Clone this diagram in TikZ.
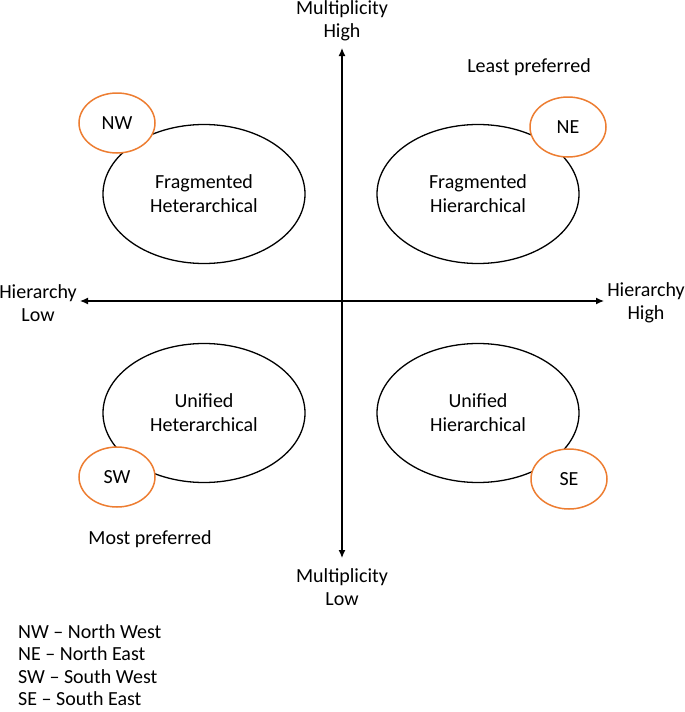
\documentclass[tikz,border=0pt]{standalone}
\usepackage{fontspec}
\setmainfont{Carlito}
\usetikzlibrary{arrows.meta,shapes.geometric}
\definecolor{office}{RGB}{237,125,49}
\tikzset{
  bigell/.style={ellipse, draw=black, line width=1.3pt, minimum width=202pt, minimum height=139pt, align=center, inner sep=0pt, font=\fontsize{20}{24}\selectfont},
  smallell/.style={ellipse, draw=office, fill=white, line width=1.5pt, minimum width=76pt, minimum height=60pt, inner sep=0pt},
  lbl/.style={align=center, inner sep=0pt},
  axis/.style={line width=1.3pt, -{Latex[length=8pt,width=7pt]}},
}
\begin{document}
\begin{tikzpicture}[x=1pt,y=-1pt,font=\fontsize{20}{22.5}\selectfont]
\useasboundingbox (0,0) rectangle (685,712);
\coordinate (O) at (342,301);
\coordinate (T) at (342,48);
\coordinate (B) at (342,558);
\coordinate (L) at (80,301);
\coordinate (R) at (604,301);
\draw[axis] (O) -- (T);
\draw[axis] (O) -- (B);
\draw[axis] (O) -- (L);
\draw[axis] (O) -- (R);
\node[lbl] (mh) at (342,21) {Multiplicity\\High};
\node[lbl] (ml) at (342,587) {Multiplicity\\Low};
\node[lbl] (hl) at (38,303) {Hierarchy\\Low};
\node[lbl] (hh) at (646,303) {Hierarchy\\High};
\node[bigell] (fhet) at (204,194) {Fragmented\\Heterarchical};
\node[bigell] (fhier) at (478,194) {Fragmented\\Hierarchical};
\node[bigell] (uhet) at (204,413) {Unified\\Heterarchical};
\node[bigell] (uhier) at (478,413) {Unified\\Hierarchical};
\node[smallell] (nw) at (117,123) {NW};
\node[smallell] (ne) at (568,127) {NE};
\node[smallell] (sw) at (117,477) {SW};
\node[smallell] (se) at (569,479) {SE};
\node[lbl] (least) at (529,67) {Least preferred};
\node[lbl] (most) at (150,539) {Most preferred};
\node[lbl, anchor=west, align=left] (legend) at (18,665) {NW -- North West\\NE -- North East\\SW -- South West\\SE -- South East};
\end{tikzpicture}
\end{document}
